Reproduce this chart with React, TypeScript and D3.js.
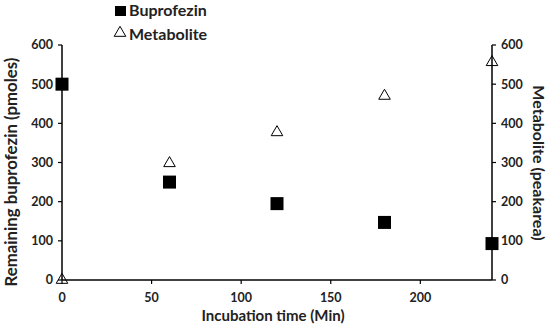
import React from "react";
import * as d3 from "d3";

const times = [0, 60, 120, 180, 240];
const buprofezin = [500, 250, 195, 147, 93];
const metabolite = [0, 298, 377, 470, 556];
const xTicks = [0, 50, 100, 150, 200];
const yTicks = [0, 100, 200, 300, 400, 500, 600];

const W = 550, H = 329;
const left = 62, right = 492, top = 45, bottom = 280;
const FONT = "Lato, 'Open Sans', sans-serif";

export default function App() {
  const x = d3.scaleLinear().domain([0, 240]).range([left, right]);
  const yL = d3.scaleLinear().domain([0, 600]).range([bottom, top]);
  const yR = d3.scaleLinear().domain([0, 600]).range([bottom, top]);
  const sq = 13;
  const tri = d3.symbol().type(d3.symbolTriangle).size(58)();
  return (
    <svg width={W} height={H} style={{ position: "absolute", left: 0, top: 0, background: "#fff" }} fontFamily={FONT}>
      {/* axes */}
      <line x1={left} x2={left} y1={top} y2={bottom} stroke="#000" strokeWidth={1.5} />
      <line x1={right} x2={right} y1={top} y2={bottom} stroke="#000" strokeWidth={1.5} />
      <line x1={left} x2={right} y1={bottom} y2={bottom} stroke="#000" strokeWidth={1.5} />
      {yTicks.map((t) => (
        <g key={"l" + t}>
          <line x1={left - 4} x2={left} y1={yL(t)} y2={yL(t)} stroke="#000" strokeWidth={1.2} />
          <text x={left - 9} y={yL(t)} dy="0.35em" textAnchor="end" fontSize={12.5} fontWeight={700} fill="#222">{t}</text>
        </g>
      ))}
      {yTicks.map((t) => (
        <g key={"r" + t}>
          <line x1={right} x2={right + 4} y1={yR(t)} y2={yR(t)} stroke="#000" strokeWidth={1.2} />
          <text x={right + 9} y={yR(t)} dy="0.35em" textAnchor="start" fontSize={12.5} fontWeight={700} fill="#222">{t}</text>
        </g>
      ))}
      {xTicks.map((t) => (
        <g key={"x" + t}>
          <line x1={x(t)} x2={x(t)} y1={bottom} y2={bottom + 4} stroke="#000" strokeWidth={1.2} />
          <text x={x(t)} y={302} textAnchor="middle" fontSize={12.5} fontWeight={700} fill="#222">{t}</text>
        </g>
      ))}
      {/* titles */}
      <text x={(left + right) / 2 - 4} y={321} textAnchor="middle" fontSize={15} fontWeight={700} fill="#222">Incubation time (Min)</text>
      <text transform={`translate(17,172) rotate(-90)`} textAnchor="middle" fontSize={16.8} fontWeight={700} fill="#222">Remaining buprofezin (pmoles)</text>
      <text transform={`translate(533,163) rotate(90)`} textAnchor="middle" fontSize={16} fontWeight={700} fill="#222">Metabolite (peakarea)</text>
      {/* data */}
      {times.map((t, i) => (
        <rect key={"b" + i} x={x(t) - sq / 2} y={yL(buprofezin[i]) - sq / 2} width={sq} height={sq} fill="#000" />
      ))}
      {times.map((t, i) => (
        <path key={"m" + i} d={tri!} transform={`translate(${x(t)},${yR(metabolite[i])})`} fill="none" stroke="#000" strokeWidth={1} />
      ))}
      {/* legend */}
      <rect x={115} y={6} width={11} height={10} fill="#000" />
      <text x={129} y={16} fontSize={16} fontWeight={700} fill="#222">Buprofezin</text>
      <path d={tri!} transform="translate(120,33)" fill="none" stroke="#000" strokeWidth={1} />
      <text x={129} y={40} fontSize={16} fontWeight={700} fill="#222">Metabolite</text>
    </svg>
  );
}
